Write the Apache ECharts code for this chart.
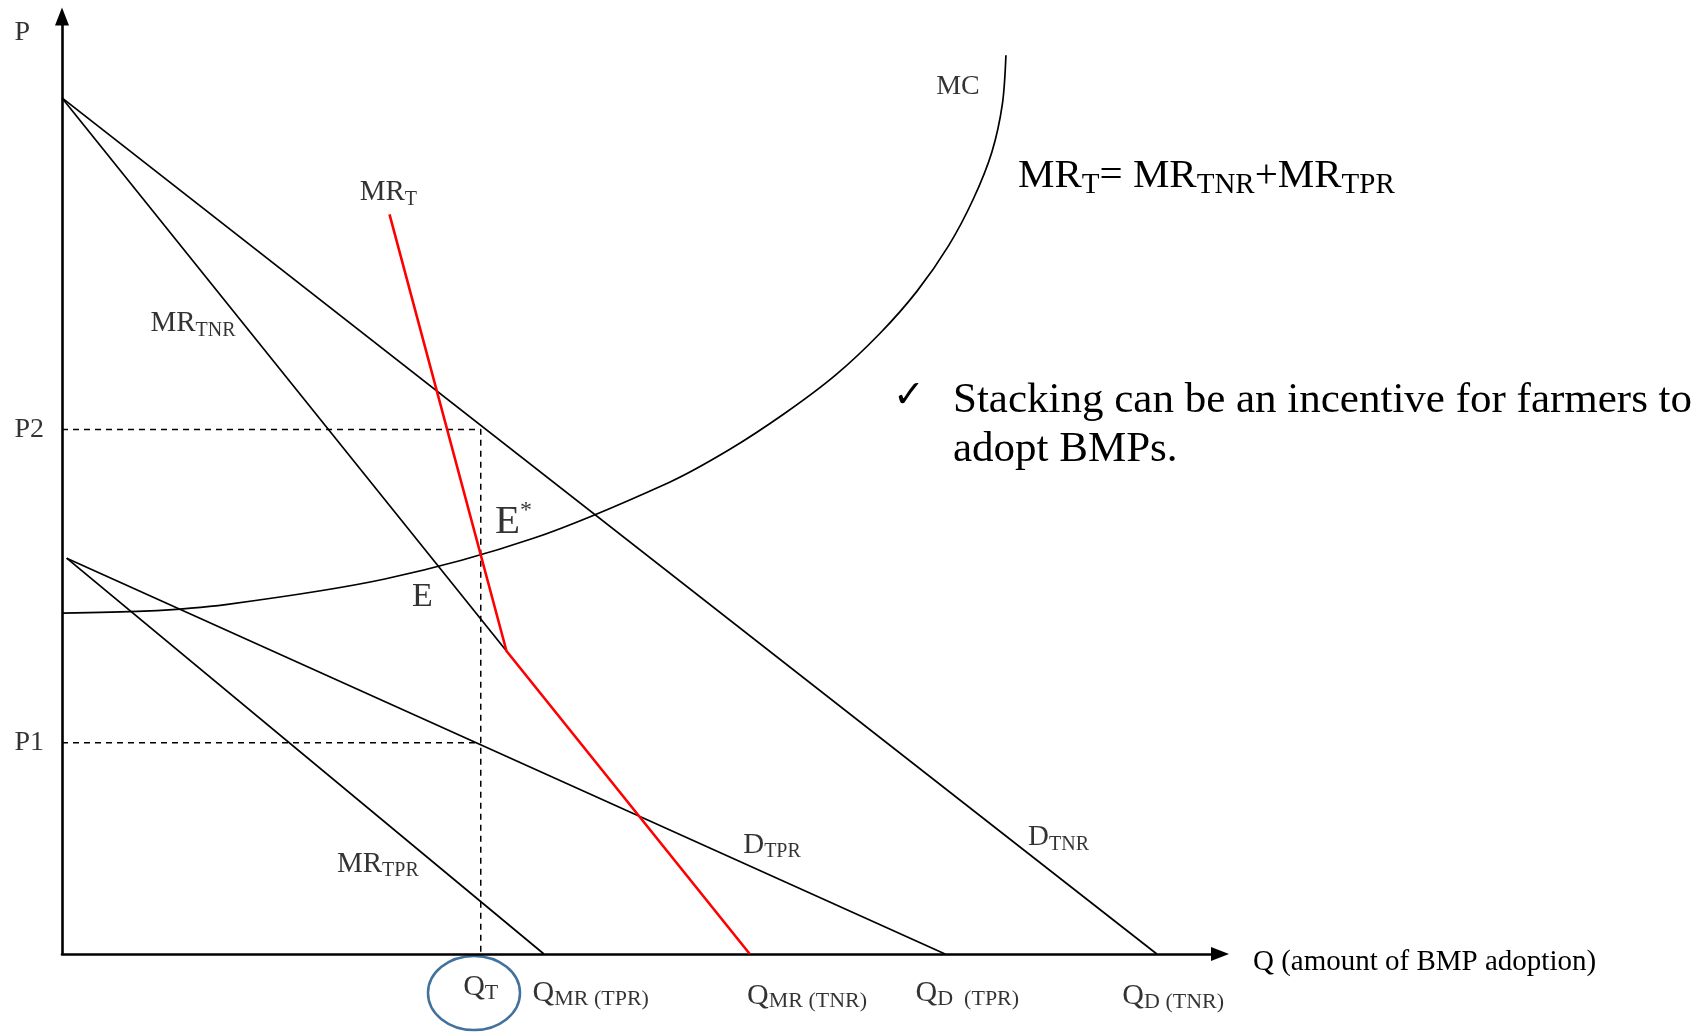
<!DOCTYPE html>
<html>
<head>
<meta charset="utf-8">
<title>MR stacking</title>
<script src="https://cdn.jsdelivr.net/npm/echarts@6/dist/echarts.min.js"></script>
<style>
html, body { margin: 0; padding: 0; background: #fff; }
#main { width: 1708px; height: 1032px; }
</style>
</head>
<body>
<div id="main"></div>
<script>
var chart = echarts.init(document.getElementById('main'), null, { renderer: 'canvas' });

// curves, Q on x, P on y (0..99)
var dTNR = [[0, 90.4], [93.6, 0]];
var mrTNR = [[0, 90.4], [38.0, 32.0]];
var dTPR = [[0.4, 41.8], [75.5, 0]];
var mrTPR = [[0.4, 41.8], [41.2, 0]];
var mrTotal = [[28.0, 78.1], [38.0, 32.0], [58.8, 0]];
var mcCurve = [
    [0, 36.0], [7.0, 36.2], [14.0, 36.9], [27.6, 39.6], [40.3, 43.9],
    [51.9, 49.8], [57.1, 53.3], [61.8, 57.1], [66.1, 61.1], [69.9, 65.5],
    [73.1, 70.0], [75.8, 74.8], [77.9, 79.7], [79.5, 84.7], [80.4, 89.8], [80.7, 94.9]
];
var qT = 35.8;
var p1 = 22.3;
var p2 = 55.4;

var serif = '"Liberation Serif", "Times New Roman", serif';
var rich = {
    big: { fontFamily: serif, fontSize: 29, color: '#000', lineHeight: 34 },
    sub: { fontFamily: serif, fontSize: 20, color: '#000', lineHeight: 14, verticalAlign: 'bottom' },
    ax: { fontFamily: serif, fontSize: 28, color: '#000', lineHeight: 34 },
    q: { fontFamily: serif, fontSize: 30, color: '#000', lineHeight: 34 },
    qs: { fontFamily: serif, fontSize: 22, color: '#000', lineHeight: 14, verticalAlign: 'bottom' },
    e: { fontFamily: serif, fontSize: 41, color: '#000', lineHeight: 46 },
    star: { fontFamily: serif, fontSize: 24, color: '#000', lineHeight: 24, verticalAlign: 'top' },
    e2: { fontFamily: serif, fontSize: 34, color: '#000', lineHeight: 38 }
};

// text labels anchored in data space
var labels = [
    { at: [-3.4, 97.3], text: '{ax|P}' },
    { at: [-2.8, p2], text: '{ax|P2}' },
    { at: [-2.8, p1], text: '{ax|P1}' },
    { at: [76.6, 91.6], text: '{ax|MC}' },
    { at: [27.9, 80.4], text: '{big|MR}{sub|T}' },
    { at: [11.2, 66.6], text: '{big|MR}{sub|TNR}' },
    { at: [38.6, 45.6], text: '{e|E}{star|*}' },
    { at: [30.8, 37.7], text: '{e2|E}' },
    { at: [27.0, 9.5], text: '{big|MR}{sub|TPR}' },
    { at: [60.7, 11.5], text: '{big|D}{sub|TPR}' },
    { at: [85.2, 12.3], text: '{big|D}{sub|TNR}' },
    { at: [qT, -3.5], text: '{q|Q}{qs|T}' },
    { at: [45.2, -4.1], text: '{q|Q}{qs|MR (TPR)}' },
    { at: [63.7, -4.4], text: '{q|Q}{qs|MR (TNR)}' },
    { at: [77.4, -4.1], text: '{q|Q}{qs|D  (TPR)}' },
    { at: [95.0, -4.5], text: '{q|Q}{qs|D (TNR)}' }
];

function curve(name, data, color, width, dashed) {
    return {
        name: name,
        type: 'line',
        data: data,
        symbol: 'none',
        smooth: false,
        animation: false,
        silent: true,
        lineStyle: { color: color, width: width, type: dashed ? [6, 5] : 'solid' }
    };
}

var mcSeries = curve('MC', mcCurve, '#000', 1.7, false);
mcSeries.smooth = 0.3;

chart.setOption({
    backgroundColor: '#fff',
    animation: false,
    grid: { left: 62, top: 16.5, width: 1158, bottom: 78, outerBoundsMode: 'none' },
    xAxis: {
        type: 'value', min: 0, max: 99,
        axisLine: { onZero: false, symbol: ['none', 'triangle'], symbolSize: [14, 18], lineStyle: { color: '#000', width: 2.6 } },
        axisTick: { show: false }, axisLabel: { show: false }, splitLine: { show: false }
    },
    yAxis: {
        type: 'value', min: 0, max: 99,
        axisLine: { show: true, onZero: false, symbol: ['none', 'triangle'], symbolSize: [14, 18], lineStyle: { color: '#000', width: 2.6 } },
        axisTick: { show: false }, axisLabel: { show: false }, splitLine: { show: false }
    },
    series: [
        curve('P2', [[0, p2], [qT, p2], [qT, 0]], '#000', 1.5, true),
        curve('P1', [[0, p1], [qT, p1]], '#000', 1.5, true),
        curve('D_TNR', dTNR, '#000', 1.7, false),
        curve('MR_TNR', mrTNR, '#000', 1.7, false),
        curve('D_TPR', dTPR, '#000', 1.7, false),
        curve('MR_TPR', mrTPR, '#000', 1.7, false),
        mcSeries,
        curve('MR_T', mrTotal, '#ff0000', 2.6, false),
        {
            name: 'labels',
            type: 'scatter',
            clip: false,
            silent: true,
            symbolSize: 1,
            itemStyle: { color: 'transparent' },
            z: 10,
            label: { show: true, position: 'inside', rich: rich },
            data: labels.map(function (l) {
                return { value: l.at, label: { formatter: l.text } };
            })
        }
    ],
    graphic: [
        {
            type: 'text', left: 1253, top: 948,
            style: { text: 'Q (amount of BMP adoption)', fontFamily: serif, fontSize: 29, fill: '#000' }
        },
        {
            type: 'text', x: 1018, y: 176,
            style: {
                text: '{b|MR}{s|T}{b|= MR}{s|TNR}{b|+MR}{s|TPR}',
                textVerticalAlign: 'middle',
                rich: {
                    b: { fontFamily: serif, fontSize: 41, fill: '#000', lineHeight: 48 },
                    s: { fontFamily: serif, fontSize: 29, fill: '#000', lineHeight: 24, verticalAlign: 'bottom' }
                }
            }
        },
        {
            type: 'text', left: 893, top: 378,
            style: {
                text: '{c|\u2713}',
                rich: { c: { fontFamily: '"DejaVu Sans"', fontSize: 38, fontWeight: 'bold', fill: '#000', lineHeight: 40 } }
            }
        },
        {
            type: 'text', left: 953, top: 379,
            style: {
                text: '{t|Stacking can be an incentive for farmers to}\n{t|adopt BMPs.}',
                rich: { t: { fontFamily: serif, fontSize: 43, fill: '#000', lineHeight: 49 } }
            }
        },
        {
            type: 'ellipse',
            shape: { cx: 474, cy: 993, rx: 46, ry: 37 },
            style: { fill: 'none', stroke: '#41719c', lineWidth: 2.5 }
        }
    ]
});
</script>
</body>
</html>
